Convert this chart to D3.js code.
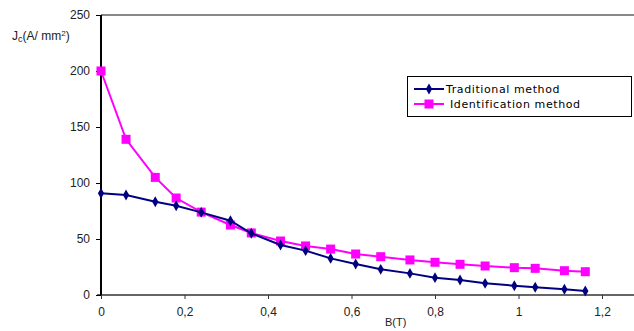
<!DOCTYPE html>
<html>
<head>
<meta charset="utf-8">
<script src="https://cdn.jsdelivr.net/npm/d3@7"></script>
<style>
  body { margin: 0; background: #fff; }
  text { font-family: "Liberation Sans", Arial, sans-serif; }
</style>
</head>
<body>
<script>
const B = [0, 0.06, 0.13, 0.18, 0.24, 0.31, 0.36, 0.43, 0.49, 0.55, 0.61, 0.67, 0.74, 0.80, 0.86, 0.92, 0.99, 1.04, 1.11, 1.16];
const traditional = [90.8, 89.3, 83.3, 79.7, 73.8, 66.3, 55.1, 44.6, 39.6, 32.7, 27.7, 22.9, 19.3, 15.5, 13.4, 10.4, 8.3, 6.9, 5.1, 3.6];
const identification = [200, 139, 105, 86.6, 74, 62.5, 55.4, 48.2, 43.8, 41, 36.6, 34.2, 31.3, 29.2, 27.4, 25.9, 24.4, 23.8, 21.7, 20.8];
const xTicks = [0, 0.2, 0.4, 0.6, 0.8, 1, 1.2];
const yTicks = [0, 50, 100, 150, 200, 250];
const seriesNames = ["Traditional method", "Identification method"];

const WIDTH = 634, HEIGHT = 331;
const svg = d3.select("body").append("svg")
  .attr("width", WIDTH).attr("height", HEIGHT);

const x = d3.scaleLinear().domain([0, 1.2]).range([101, 602]);
const y = d3.scaleLinear().domain([0, 250]).range([295, 15]);

// top frame line
svg.append("line")
  .attr("x1", x(0)).attr("x2", WIDTH).attr("y1", y(250)).attr("y2", y(250))
  .attr("stroke", "#888").attr("stroke-width", 2);

// x axis
const xAxis = svg.append("g").attr("transform", "translate(0," + y(0) + ")")
  .call(d3.axisBottom(x).tickValues(xTicks).tickSize(4).tickPadding(8)
    .tickFormat(d => String(d).replace(".", ",")));
xAxis.select(".domain").remove();
xAxis.append("line").attr("x1", x(0) - 4).attr("x2", WIDTH)
  .attr("stroke", "#333").attr("stroke-width", 1.5);
xAxis.selectAll(".tick line").attr("stroke", "#333");
xAxis.selectAll("text").attr("font-size", 12).attr("fill", "#222");

// y axis
const yAxis = svg.append("g").attr("transform", "translate(" + x(0) + ",0)")
  .call(d3.axisLeft(y).tickValues(yTicks).tickSize(5).tickPadding(6));
yAxis.select(".domain").attr("stroke", "#000").attr("stroke-width", 2)
  .attr("d", "M0," + y(250) + "V" + y(0));
yAxis.selectAll("text").attr("font-size", 12).attr("fill", "#222");

// axis titles
const yl = svg.append("text").attr("x", 12).attr("y", 40).attr("font-size", 12).attr("fill", "#222");
yl.append("tspan").text("J");
yl.append("tspan").attr("font-size", 9).attr("dy", 2).text("c");
yl.append("tspan").attr("dy", -2).text("(A/ mm");
yl.append("tspan").attr("font-size", 8).attr("dy", -4).text("2");
yl.append("tspan").attr("dy", 4).text(")");

svg.append("text").attr("x", 385).attr("y", 326).attr("font-size", 11)
  .attr("fill", "#222").text("B(T)");

const line = d3.line().x((d, i) => x(B[i])).y(d => y(d));

// pink
svg.append("path").datum(identification).attr("d", line)
  .attr("fill", "none").attr("stroke", "#ff00ff").attr("stroke-width", 2);
svg.selectAll(".sq").data(identification).enter().append("rect")
  .attr("x", (d, i) => x(B[i]) - 4.5).attr("y", d => y(d) - 4.5)
  .attr("width", 9).attr("height", 9).attr("fill", "#ff00ff");

// blue
svg.append("path").datum(traditional).attr("d", line)
  .attr("fill", "none").attr("stroke", "#000080").attr("stroke-width", 2);
const diamond = d3.symbol().type(d3.symbolDiamond).size(34);
svg.selectAll(".dm").data(traditional).enter().append("path")
  .attr("d", diamond)
  .attr("transform", (d, i) => "translate(" + x(B[i]) + "," + y(d) + ")")
  .attr("fill", "#000080");

// legend
const lg = svg.append("g");
lg.append("rect").attr("x", 407.5).attr("y", 76.5).attr("width", 224).attr("height", 40)
  .attr("fill", "#fff").attr("stroke", "#000").attr("stroke-width", 1);
const colors = ["#000080", "#ff00ff"];
seriesNames.forEach((name, i) => {
  const ly = 89 + i * 15;
  lg.append("line").attr("x1", 414).attr("x2", 444).attr("y1", ly).attr("y2", ly)
    .attr("stroke", colors[i]).attr("stroke-width", 2);
  if (i === 0) {
    lg.append("path").attr("d", diamond).attr("transform", "translate(429," + ly + ")").attr("fill", colors[i]);
  } else {
    lg.append("rect").attr("x", 424.5).attr("y", ly - 4.5).attr("width", 9).attr("height", 9).attr("fill", colors[i]);
  }
  lg.append("text").attr("x", i === 0 ? 446 : 450).attr("y", ly + 4).attr("font-size", 11)
    .style("font-family", "'DejaVu Sans'").style("letter-spacing", "0.6px")
    .attr("fill", "#000").text(name);
});
</script>
</body>
</html>
